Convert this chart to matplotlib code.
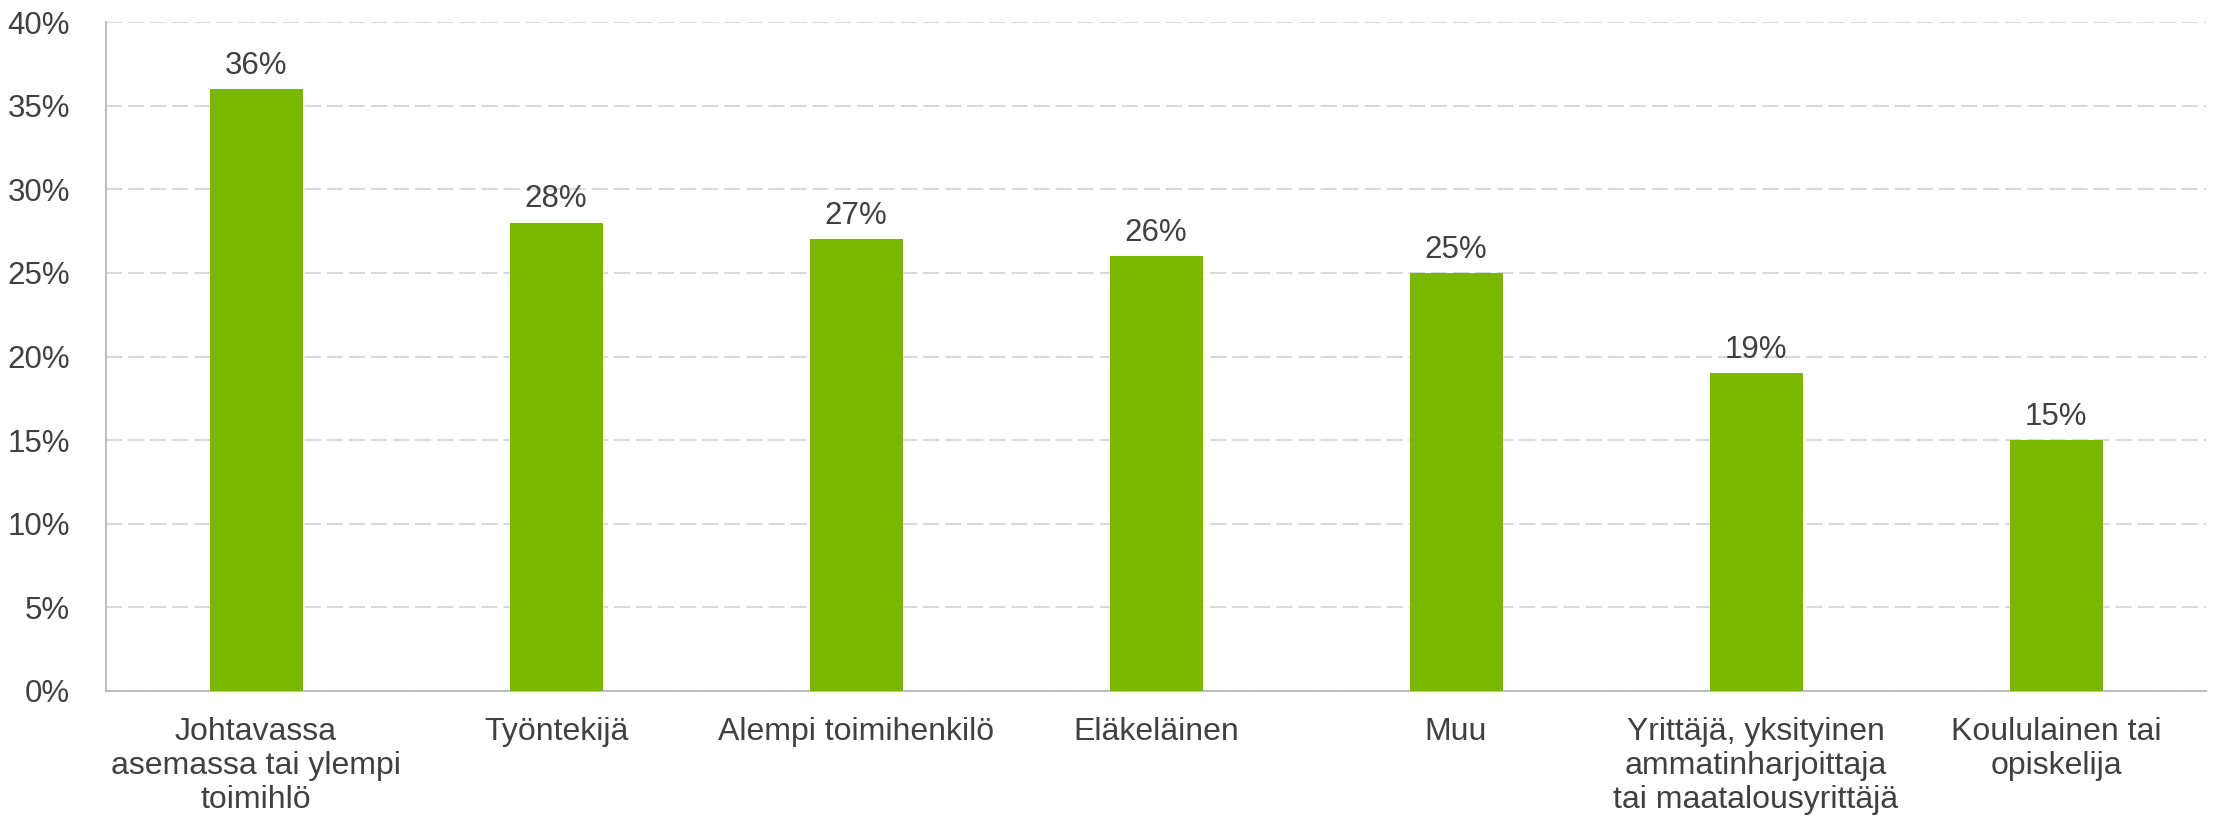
import matplotlib
matplotlib.use("Agg")
import matplotlib.pyplot as plt
from matplotlib.ticker import FuncFormatter, MultipleLocator

categories = [
    "Johtavassa\nasemassa tai ylempi\ntoimihlö",
    "Työntekijä",
    "Alempi toimihenkilö",
    "Eläkeläinen",
    "Muu",
    "Yrittäjä, yksityinen\nammatinharjoittaja\ntai maatalousyrittäjä",
    "Koululainen tai\nopiskelija",
]
values = [36, 28, 27, 26, 25, 19, 15]

plt.rcParams['font.family'] = ['Liberation Sans', 'DejaVu Sans']
text_color = "#404040"
bar_color = "#7AB800"

fig = plt.figure(figsize=(22.14, 8.19), dpi=100)
ax = fig.add_axes([106/2214, 1-691/819, (2206-106)/2214, (691-22)/819])

x = list(range(len(categories)))
bars = ax.bar(x, values, width=0.31, color=bar_color, zorder=3)
ax.set_xlim(-0.5, len(categories)-0.5)
ax.set_ylim(0, 40)
ax.yaxis.set_major_locator(MultipleLocator(5))
ax.yaxis.set_major_formatter(FuncFormatter(lambda v, p: f"{int(v)}%"))

ax.grid(axis='y', color="#d9d9d9", linewidth=1.5, linestyle=(0, (7.7, 2.9)), zorder=0)
ax.set_axisbelow(True)

for s in ['top', 'right']:
    ax.spines[s].set_visible(False)
for s in ['left', 'bottom']:
    ax.spines[s].set_color("#bfbfbf")
    ax.spines[s].set_linewidth(1.5)

ax.set_xticks(x)
ax.set_xticklabels(categories, fontsize=23, color=text_color, linespacing=1.17)
ax.tick_params(axis='x', length=0, pad=19)
ax.tick_params(axis='y', length=0, pad=26, labelsize=22.5, labelcolor=text_color)

for xi, v in zip(x, values):
    ax.annotate(f"{v}%", (xi, v), xytext=(0, 6), textcoords="offset points",
                ha='center', va='bottom', fontsize=22.5, color=text_color)

fig.savefig("out.png", dpi=100)
